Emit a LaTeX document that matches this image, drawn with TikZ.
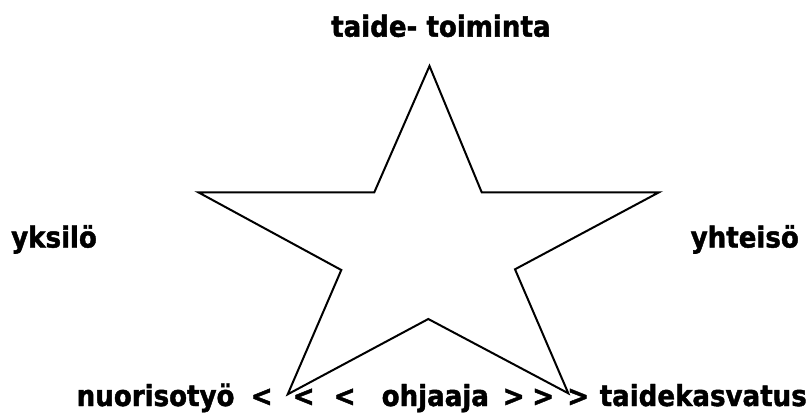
\documentclass[tikz,border=0pt]{standalone}
\usepackage{fontspec}
\setmainfont{DejaVu Sans}
\newfontfamily\condbold{DejaVu Sans Condensed Bold}[FakeBold=1.5]
\tikzset{
  lbl/.style={inner sep=0pt, anchor=base west, font=\fontsize{29}{33}\condbold},
  starline/.style={line width=2pt, line join=miter}
}
\begin{document}
\begin{tikzpicture}[x=1pt,y=-1pt]
\useasboundingbox (0,0) rectangle (808,414);
\fill[white] (0,0) rectangle (808,414);
% star
\draw[starline] (429.5,66) -- (481.7,192.3) -- (659,192.3) -- (515,269.3) -- (568.3,393.3)
  -- (428.3,319) -- (287.7,394.3) -- (341.3,270) -- (198.3,192.3) -- (374.3,192.3) -- cycle;
% labels
\node[lbl] (top) at (331,36.7) {taide- toiminta};
\node[lbl] (left) at (11,247.5) {yksilö};
\node[lbl] (right) at (690.5,247.5) {yhteisö};
\node[lbl] (nuor) at (76.5,406) {nuorisotyö};
\node[lbl] (l1) at (250.5,406) {<};
\node[lbl] (l2) at (292.5,406) {<};
\node[lbl] (l3) at (333.5,406) {<};
\node[lbl] (ohj) at (381.5,406) {ohjaaja};
\node[lbl] (g1) at (502.5,406) {>};
\node[lbl] (g2) at (532,406) {>};
\node[lbl] (g3) at (567,406) {>};
\node[lbl] (taid) at (599.5,406) {taidekasvatus};
\end{tikzpicture}
\end{document}
